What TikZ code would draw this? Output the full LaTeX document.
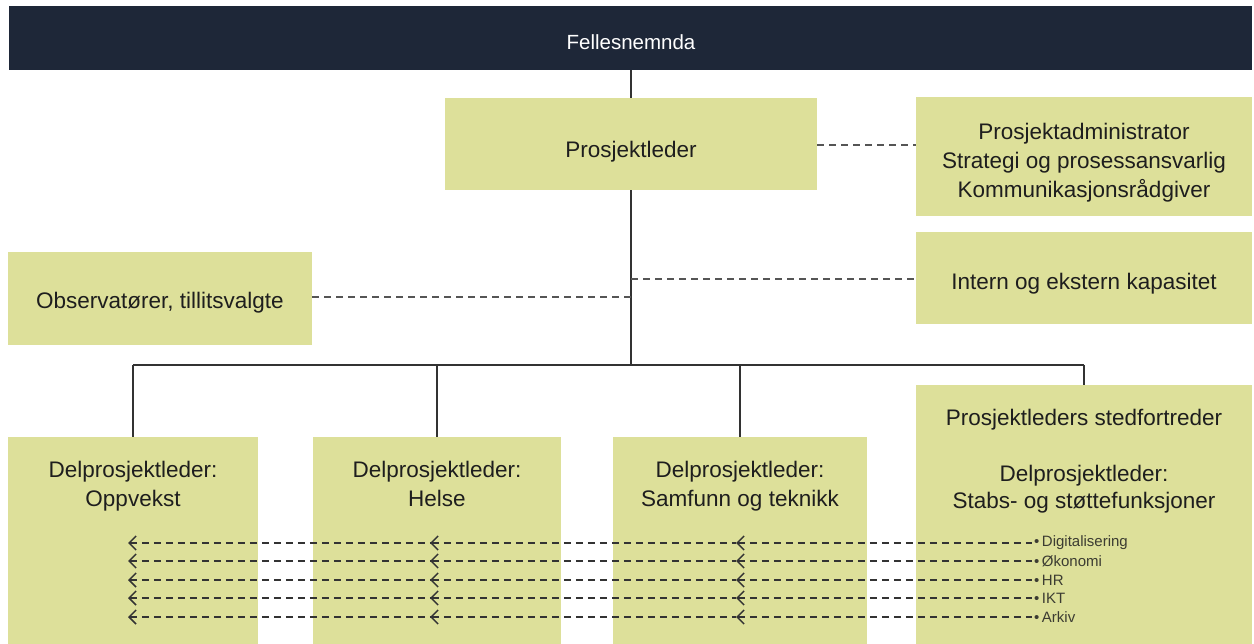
\documentclass[tikz,border=0pt]{standalone}
\usepackage{fontspec}
\setmainfont{Liberation Sans}
\usetikzlibrary{arrows.meta}
\definecolor{boxfill}{RGB}{221,224,154}
\definecolor{navy}{RGB}{30,39,56}
\definecolor{linec}{RGB}{50,50,50}
\definecolor{dashc}{RGB}{85,85,85}
\definecolor{txtc}{RGB}{30,30,30}
\definecolor{smallc}{RGB}{60,60,50}
\tikzset{
  box/.style={fill=boxfill, inner sep=0pt},
  lbl/.style={inner sep=0pt, anchor=base, text=txtc, font=\fontsize{22.5}{27}\selectfont},
  solidline/.style={draw=linec, line width=1.4pt},
  dashline/.style={draw=dashc, line width=1.4pt, dash pattern=on 7pt off 5pt},
  arrline/.style={draw=black!80, line width=1.3pt, dash pattern=on 7pt off 5pt, {Straight Barb[length=7pt,width=14pt,line width=1.5pt]}-},
  small/.style={inner sep=0pt, anchor=west, text=smallc, font=\fontsize{15}{15}\selectfont}
}
\begin{document}
\begin{tikzpicture}[x=1pt,y=-1pt]
\useasboundingbox (0,0) rectangle (1254,644);
% header
\node[fill=navy, minimum width=1243pt, minimum height=64pt, inner sep=0pt] (fn) at (630.5,38) {};
\node[inner sep=0pt, anchor=base, text=white, font=\fontsize{20.5}{24}\selectfont] (fnt) at (631,49.5) {Fellesnemnda};
% top boxes
\node[box, minimum width=372pt, minimum height=92pt] (pl) at (631,144) {};
\node[lbl] (plt) at (631,158) {Prosjektleder};
\node[box, minimum width=336pt, minimum height=119pt] (adm) at (1084,157) {};
\node[lbl] (adm1) at (1084,140) {Prosjektadministrator};
\node[lbl] (adm2) at (1084,169) {Strategi og prosessansvarlig};
\node[lbl] (adm3) at (1084,198) {Kommunikasjonsrådgiver};
\node[box, minimum width=336pt, minimum height=92pt] (kap) at (1084,278) {};
\node[lbl] (kapt) at (1084,290) {Intern og ekstern kapasitet};
\node[box, minimum width=304pt, minimum height=93pt] (obs) at (160,298.5) {};
\node[lbl] (obst) at (160,309) {Observatører, tillitsvalgte};
% bottom boxes
\node[box, minimum width=250pt, minimum height=208pt] (b1) at (133,541) {};
\node[box, minimum width=248pt, minimum height=208pt] (b2) at (437,541) {};
\node[box, minimum width=254pt, minimum height=208pt] (b3) at (740,541) {};
\node[box, minimum width=336pt, minimum height=260pt] (b4) at (1084,515) {};
\node[lbl] (t1a) at (133,478) {Delprosjektleder:};
\node[lbl] (t1b) at (133,506) {Oppvekst};
\node[lbl] (t2a) at (437,478) {Delprosjektleder:};
\node[lbl] (t2b) at (437,506) {Helse};
\node[lbl] (t3a) at (740,478) {Delprosjektleder:};
\node[lbl] (t3b) at (740,506) {Samfunn og teknikk};
\node[lbl] (t4a) at (1084,425) {Prosjektleders stedfortreder};
\node[lbl] (t4b) at (1084,481) {Delprosjektleder:};
\node[lbl] (t4c) at (1084,508) {Stabs- og støttefunksjoner};
% trunk
\coordinate (j1) at (631,279);
\coordinate (j2) at (631,297);
\coordinate (bar) at (631,365);
\draw[solidline] (fn.south -| pl.north) -- (pl.north);
\draw[solidline] (pl.south) -- (bar);
\draw[solidline] (b1.north |- bar) -- (b4.north |- bar);
\draw[solidline] (b1.north |- bar) -- (b1.north);
\draw[solidline] (b2.north |- bar) -- (b2.north);
\draw[solidline] (b3.north |- bar) -- (b3.north);
\draw[solidline] (b4.north |- bar) -- (b4.north);
% dashed links
\draw[dashline] (pl.east |- 0,145) -- (adm.west |- 0,145);
\draw[dashline] (j1) -- (kap.west |- j1);
\draw[dashline] (obs.east |- j2) -- (j2);
% support functions
\foreach \y/\txt/\nm in {543/Digitalisering/s1, 561/Økonomi/s2, 580/HR/s3, 598/IKT/s4, 617/Arkiv/s5}{
  \node[small] (\nm) at (1034,\y) {•\,\txt};
  \coordinate (\nm c) at (736,\y);
  \coordinate (\nm b) at (430,\y);
  \coordinate (\nm a) at (128,\y);
  \draw[arrline] (\nm c) -- ([xshift=-2pt]\nm.west);
  \draw[arrline] (\nm b) -- (\nm c);
  \draw[arrline] (\nm a) -- (\nm b);
}
\end{tikzpicture}
\end{document}
